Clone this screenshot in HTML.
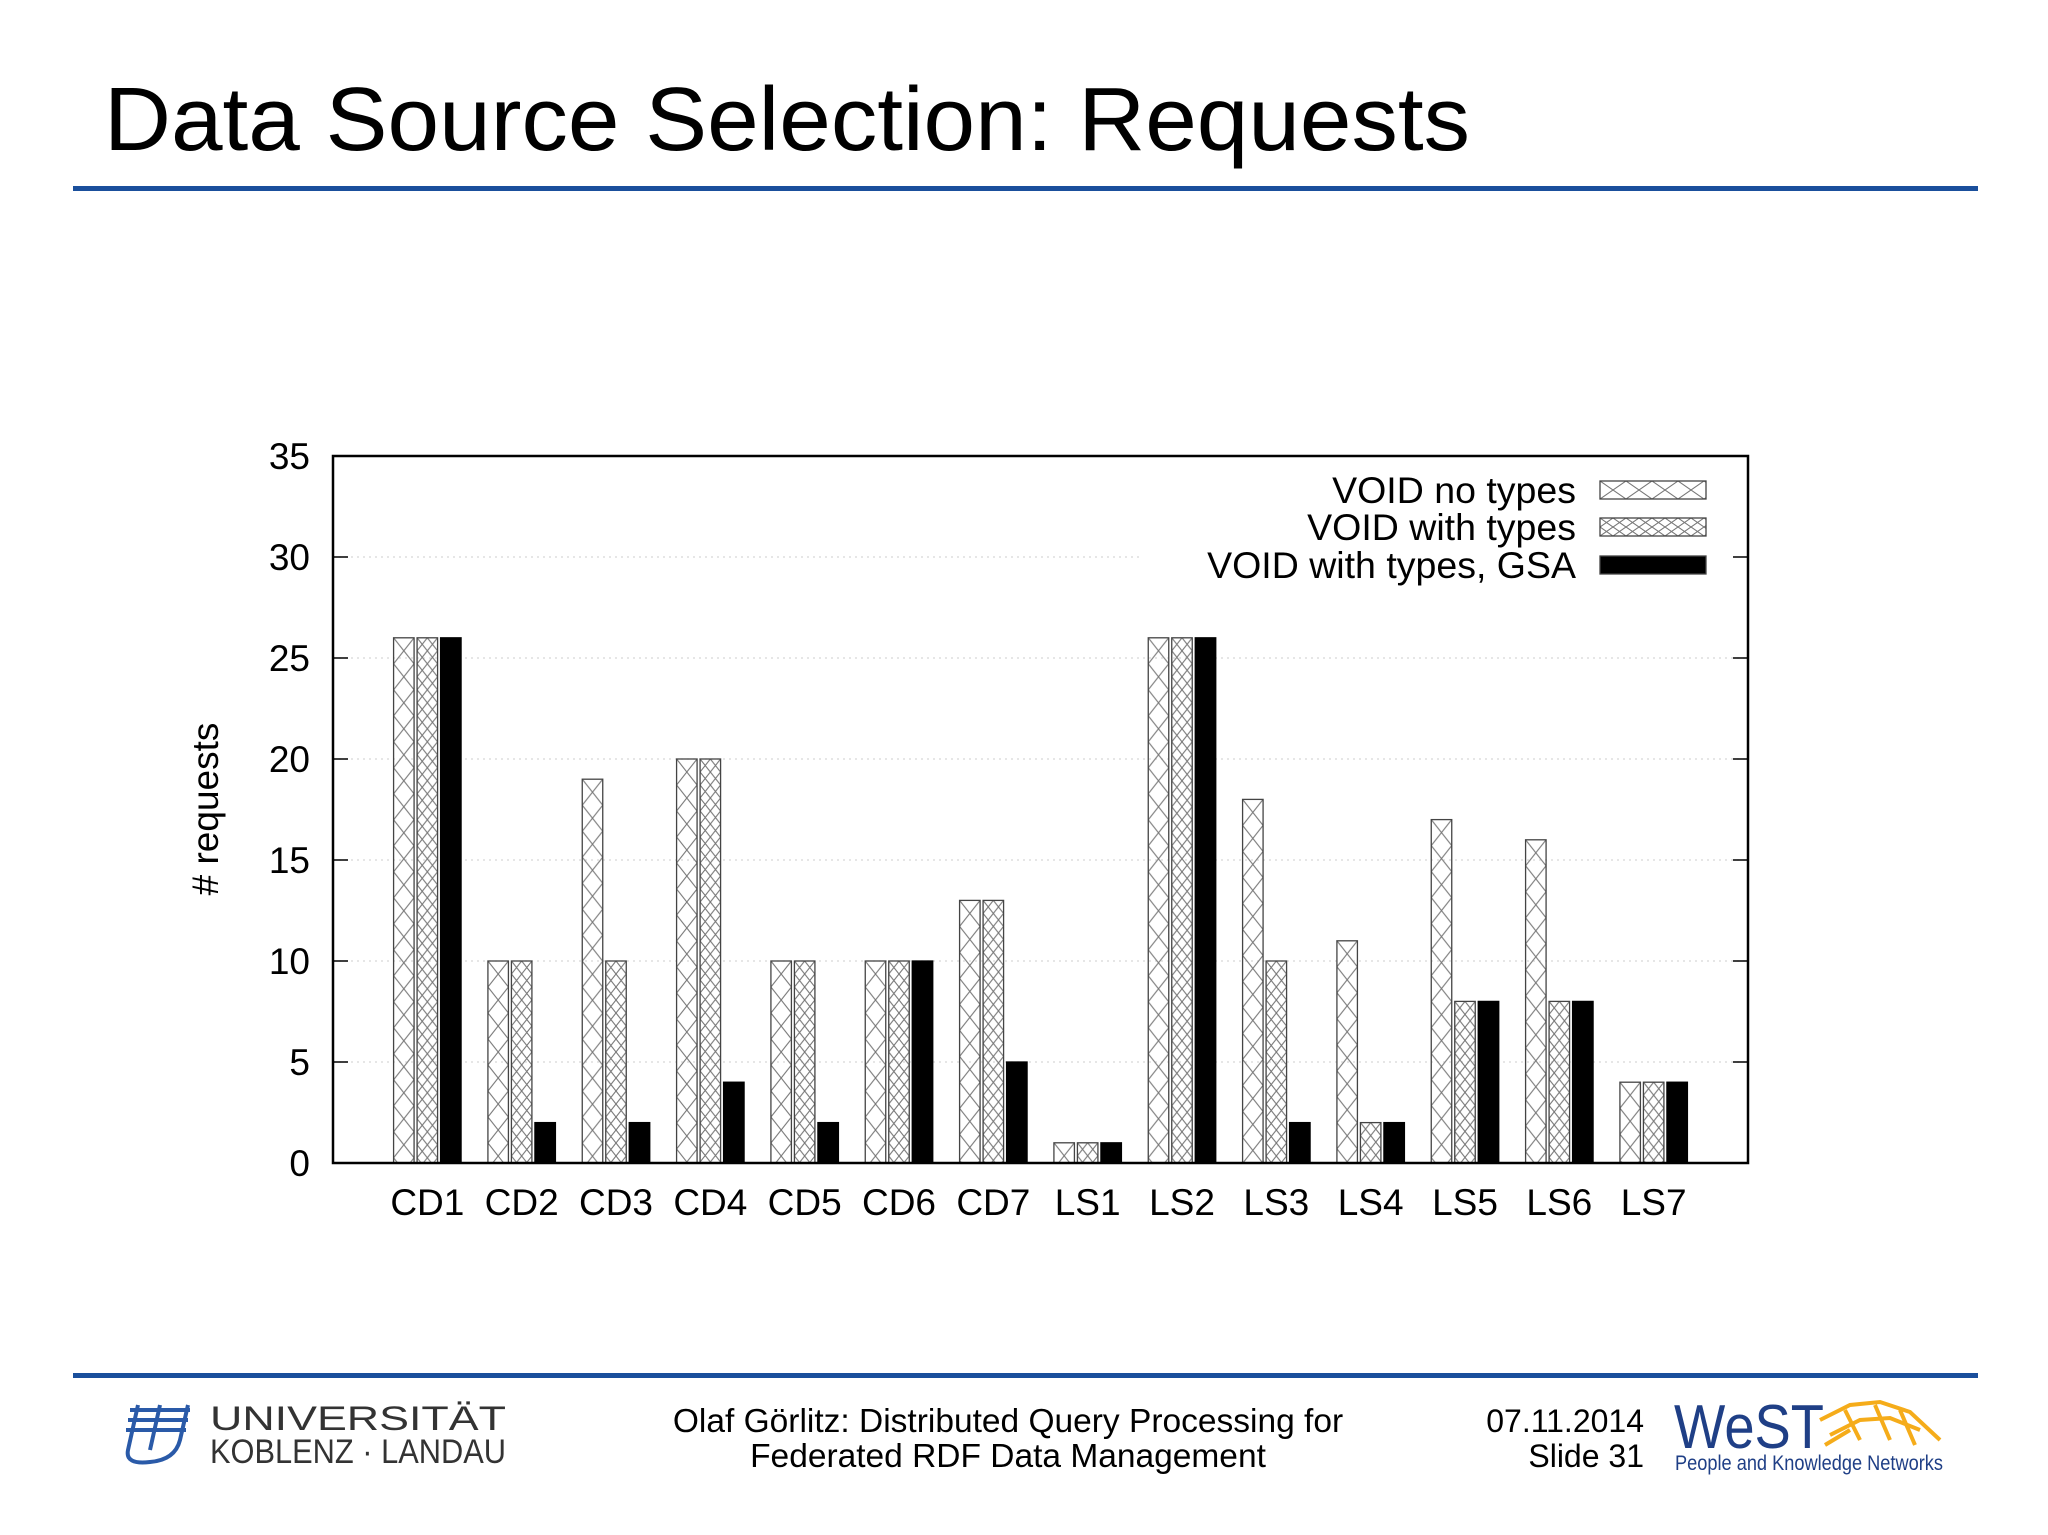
<!DOCTYPE html>
<html><head><meta charset="utf-8">
<style>
html,body{margin:0;padding:0;background:#fff;}
svg{display:block;font-family:"Liberation Sans",Arial,sans-serif;}
</style></head>
<body>
<svg id="slide" width="2048" height="1535" viewBox="0 0 2048 1535" xmlns="http://www.w3.org/2000/svg">
<rect width="2048" height="1535" fill="#fff"/>
<text x="104" y="150" font-size="90" textLength="1366" lengthAdjust="spacingAndGlyphs" fill="#000">Data Source Selection: Requests</text>
<rect x="73" y="186" width="1905" height="5" fill="#1a4f9c"/>
<defs id="defs"></defs>
<g id="chart"></g>
<rect x="73" y="1373" width="1905" height="5" fill="#1a4f9c"/>
<g>
  <path d="M130 1410 L190 1410 M128 1420 L188 1420 M126 1430 L186 1430" stroke="#2a5aa8" stroke-width="4" fill="none"/>
  <path d="M138 1405 L128 1450 Q125 1465 150 1462 Q175 1460 180 1440 L188 1405" stroke="#2a5aa8" stroke-width="4" fill="none"/>
  <path d="M160 1405 L150 1450" stroke="#2a5aa8" stroke-width="4"/>
  <text x="210" y="1430" font-size="34" textLength="296" lengthAdjust="spacingAndGlyphs" fill="#333">UNIVERSITÄT</text>
  <text x="210" y="1463" font-size="34" textLength="296" lengthAdjust="spacingAndGlyphs" fill="#333">KOBLENZ · LANDAU</text>
</g>
<text text-anchor="middle" font-size="33.5" fill="#000"><tspan x="1008" y="1432">Olaf Görlitz: Distributed Query Processing for</tspan><tspan x="1008" y="1467">Federated RDF Data Management</tspan></text>
<text text-anchor="end" font-size="32" fill="#000"><tspan x="1644" y="1432">07.11.2014</tspan><tspan x="1644" y="1467">Slide 31</tspan></text>
<g>
  <text x="1674" y="1448" font-size="62" fill="#1f3f86" textLength="150" lengthAdjust="spacingAndGlyphs">WeST</text>
  <path d="M1820 1420 L1850 1405 L1880 1402 L1910 1412 L1940 1440 M1830 1435 L1860 1420 L1890 1418 L1920 1430 M1845 1410 L1860 1440 M1875 1405 L1890 1440 M1900 1410 L1915 1445 M1825 1445 L1850 1430" stroke="#f5ac1a" stroke-width="4" fill="none"/>
  <text x="1675" y="1470" font-size="21" fill="#1f3f86" textLength="268" lengthAdjust="spacingAndGlyphs">People and Knowledge Networks</text>
</g>
</svg>
<script>
const categories=["CD1","CD2","CD3","CD4","CD5","CD6","CD7","LS1","LS2","LS3","LS4","LS5","LS6","LS7"];
const voidNoTypes=[26,10,19,20,10,10,13,1,26,18,11,17,16,4];
const voidWithTypes=[26,10,10,20,10,10,13,1,26,10,2,8,8,4];
const voidWithTypesGsa=[26,2,2,4,2,10,5,1,26,2,2,8,8,4];
const yTicks=[0,5,10,15,20,25,30,35];
const seriesNames=["VOID no types","VOID with types","VOID with types, GSA"];

const NS="http://www.w3.org/2000/svg";
const L=333,R=1748,T=456,B=1163,YMAX=35;
const xScale=i=>L+(R-L)/15*(i+1);
const yScale=v=>B-v*(B-T)/YMAX;
const chart=document.getElementById('chart');
const defs=document.getElementById('defs');
function mk(tag,attrs,parent){const e=document.createElementNS(NS,tag);for(const k in attrs)e.setAttribute(k,attrs[k]);(parent||chart).appendChild(e);return e;}
let pid=0;
function hatch(x,y,w,h){
  const id='p'+(pid++);
  const p=mk('pattern',{id:id,patternUnits:'userSpaceOnUse',x:x,y:y,width:w,height:h},defs);
  mk('path',{d:`M0 0 L${w} ${h} M${w} 0 L0 ${h} M-1 ${h-1} L1 ${h+1} M${w-1} -1 L${w+1} 1`,stroke:'#777','stroke-width':1.1,fill:'none'},p);
  return id;
}
yTicks.forEach(t=>{
  if(t>0&&t<YMAX){
    const g=mk('line',{x1:L,x2:(t===30?1140:R),y1:yScale(t),y2:yScale(t),stroke:'#d8d8d8','stroke-width':1.2,'stroke-dasharray':'2 4'});
    
    
  }
  const tk=mk('path',{d:`M${L} ${yScale(t)} h15 M${R} ${yScale(t)} h-15`,stroke:'#000','stroke-width':1.5});
  
  
  const lb=mk('text',{x:310,y:yScale(t)+13,'text-anchor':'end','font-size':37,fill:'#000'});
  lb.textContent=t;
  
  
});
const BW=20.5,OFF=23.5;
const series=[voidNoTypes,voidWithTypes,voidWithTypesGsa];
categories.forEach((c,i)=>{
  const cx=xScale(i);
  series.forEach((arr,s)=>{
    const x=cx+(s-1)*OFF-BW/2, y=yScale(arr[i]), h=B-y;
    let fill='#000';
    if(s===0) fill=`url(#${hatch(x,y,BW,26)})`;
    if(s===1) fill=`url(#${hatch(x,y,BW/2,13)})`;
    const r=mk('rect',{x:x,y:y,width:BW,height:h,fill:fill,stroke:s===2?'#000':'#444','stroke-width':1.3});
    
    
  });
  const lb=mk('text',{x:cx,y:1215,'text-anchor':'middle','font-size':37,fill:'#000'});
  lb.textContent=c;
  
  
});
const fr=mk('rect',{x:L,y:T,width:R-L,height:B-T,fill:'none',stroke:'#000','stroke-width':2.5});


const yt=mk('text',{x:0,y:0,transform:'translate(218,809) rotate(-90)','text-anchor':'middle','font-size':37,fill:'#000'});
yt.textContent='# requests';


const legY=[490,527,565];
seriesNames.forEach((n,s)=>{
  const t=mk('text',{x:1576,y:legY[s]+13,'text-anchor':'end','font-size':37.5,fill:'#000'});
  t.textContent=n;
  
  
  const x=1600,y=legY[s]-9,w=106,h=18;
  let fill='#000';
  if(s===0) fill=`url(#${hatch(x,y,26,18)})`;
  if(s===1) fill=`url(#${hatch(x,y,13,9)})`;
  const r=mk('rect',{x:x,y:y,width:w,height:h,fill:fill,stroke:'#444','stroke-width':1.3});
  
  
});
</script>
</body></html>
